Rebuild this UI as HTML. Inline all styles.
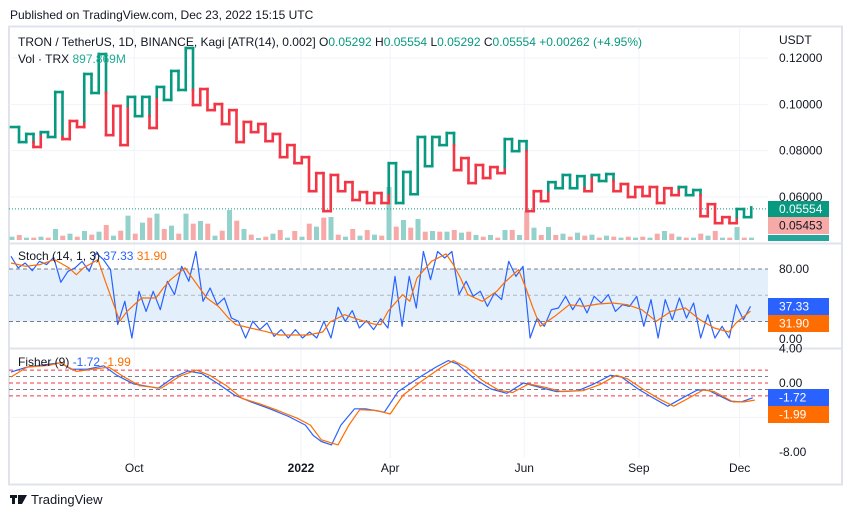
<!DOCTYPE html>
<html><head><meta charset="utf-8">
<style>
body{margin:0;background:#fff;width:851px;height:518px;overflow:hidden;font-family:"Liberation Sans",sans-serif;}
svg text{font-family:"Liberation Sans",sans-serif;}
</style></head>
<body>
<svg id="chart" width="851" height="518" viewBox="0 0 851 518">
<text x="10" y="19" font-size="12" fill="#131722">Published on TradingView.com, Dec 23, 2022 15:15 UTC</text>
<rect x="9" y="26.5" width="833" height="458" fill="none" stroke="#e0e3eb" stroke-width="2"/>
<g id="grid"></g>
<g id="bands"></g>
<g id="vol"></g>
<g id="kagi"></g>
<g id="ind"></g>
<line x1="9" y1="243.5" x2="842" y2="243.5" stroke="#e0e3eb" stroke-width="2"/>
<line x1="9" y1="348.5" x2="842" y2="348.5" stroke="#e0e3eb" stroke-width="2"/>
<g id="axes"></g>
<text x="18" y="46" font-size="12" fill="#131722">TRON / TetherUS, 1D, BINANCE, Kagi [ATR(14), 0.002]  O<tspan fill="#089981">0.05292</tspan>  H<tspan fill="#089981">0.05554</tspan>  L<tspan fill="#089981">0.05292</tspan>  C<tspan fill="#089981">0.05554</tspan>  <tspan fill="#089981">+0.00262 (+4.95%)</tspan></text>
<text x="18" y="63" font-size="12" fill="#131722">Vol · TRX  <tspan fill="#22ab94">897.869M</tspan></text>
<text x="18" y="260" font-size="12" fill="#131722">Stoch (14, 1, 3)  <tspan fill="#2962ff">37.33</tspan>  <tspan fill="#ff6d00">31.90</tspan></text>
<text x="18" y="366" font-size="12" fill="#131722">Fisher (9)  <tspan fill="#2962ff">-1.72</tspan>  <tspan fill="#ff6d00">-1.99</tspan></text>
<text x="779" y="44" font-size="12" fill="#131722">USDT</text>
<g>
<rect x="10" y="495" width="7" height="3" fill="#131722"/><rect x="12" y="495" width="3" height="9" fill="#131722"/>
<polygon points="18,495 27,495 22,504 18,504" fill="#131722"/>
<text x="31" y="504" font-size="13" fill="#131722">TradingView</text>
</g>
</svg>
<script>
// ---- data ----
const kagiPrices=[0.0902,0.0837,0.0872,0.0816,0.0880,0.0859,0.1053,0.0850,0.0928,0.0902,0.1131,0.1049,0.1217,0.0867,0.0993,0.0824,0.1032,0.0949,0.1032,0.0898,0.1075,0.1019,0.1144,0.1062,0.1243,0.0997,0.1066,0.0975,0.1001,0.0915,0.0975,0.0837,0.0924,0.0880,0.0915,0.0841,0.0872,0.0772,0.0824,0.0746,0.0772,0.0625,0.0703,0.0539,0.0695,0.0625,0.0664,0.0587,0.0621,0.0574,0.0617,0.0574,0.0746,0.0574,0.0708,0.0612,0.0859,0.0733,0.0859,0.0824,0.0876,0.0716,0.0768,0.0660,0.0738,0.0682,0.0729,0.0703,0.0850,0.0798,0.0841,0.0539,0.0625,0.0582,0.0664,0.0638,0.0695,0.0638,0.0690,0.0625,0.0695,0.0669,0.0699,0.0625,0.0656,0.0600,0.0643,0.0604,0.0643,0.0574,0.0638,0.0608,0.0643,0.0608,0.0630,0.0517,0.0569,0.0487,0.0513,0.0487,0.0548,0.0513,0.0555];
const volumes=[10,15,7,7,10,7,33,13,19,10,27,16,25,45,13,28,73,19,52,67,79,33,43,19,79,49,57,49,13,28,90,58,33,16,6,10,19,30,7,27,10,49,40,67,69,16,10,33,13,30,16,13,159,40,60,37,63,25,27,25,25,30,22,25,15,10,15,7,30,30,15,87,37,15,39,15,19,10,22,13,16,7,13,10,7,10,7,10,7,19,27,19,10,7,7,19,13,27,7,7,39,7,7];
const volUp=[1,0,1,0,1,0,1,0,1,0,1,0,1,0,1,0,1,0,1,0,1,0,1,0,1,0,1,0,1,0,1,0,1,0,1,0,1,0,1,0,1,0,1,0,1,0,1,0,1,0,1,0,1,0,1,0,1,0,1,0,1,0,1,0,1,0,1,0,1,0,1,0,1,0,1,0,1,0,1,0,1,0,1,0,1,0,1,0,1,0,1,0,1,0,1,0,1,0,1,0,1,0,1];
const stochK=[94.5,81.2,86.9,78.1,88.8,85.0,93.3,64.8,77.3,81.2,88.8,77.3,98.3,90.7,79.2,16.4,43.1,1.1,54.5,31.6,54.5,33.5,65.9,50.7,83.1,65.9,100,43.1,58.3,39.2,46.9,24.0,20.2,1.1,20.2,10.7,18.3,3.0,10.7,1.1,10.7,1.1,8.0,1.1,20.2,1.1,36.2,20.2,32.4,12.6,21.0,10.7,23.2,12.6,71.6,14.5,71.6,35.4,100,67.8,100,92.6,100,50.7,65.9,48.8,54.5,37.3,52.6,45.0,88.8,71.6,83.1,1.1,24.0,14.5,33.5,35.4,48.8,33.5,46.9,29.7,48.8,41.1,50.7,31.6,39.2,37.3,48.8,14.5,45.0,1.1,45.0,22.1,46.9,24.0,41.1,1.1,27.8,1.1,14.5,1.1,39.2,22.1,37.33];
const stochDIdx=[0,1,2,4,6,8,9,10,12,13,15,16,18,20,21,22,24,25,27,28.6,30,31,33,35,37,39,41,43,44,46,48,50,51,52,54,55,56,58,60,61,62,63,65,67,68,70,71,72,73,75,77,79,81,83,85,87,89,91,93,95,97,99,100,102];
const stochD=[86.9,85.0,83.1,85,90.7,81.2,73.5,81.2,90.7,65.9,20.2,31.6,46.9,46.9,58.3,67.8,81.2,69.7,46.9,37.3,24,16.4,12.6,8.8,4.6,4.6,4.6,8,19.4,27.8,22.1,17.1,16.4,31.6,50.7,43.1,69.7,88.8,97.2,85,69.7,50.7,43.1,54.5,64,79.2,58.3,35.4,14.5,25.9,39.2,37.3,40,41.1,39.2,33.5,20.2,31.6,35.4,22.1,12.6,8,18.3,31.9];
const fishIdx=[0,2.2,4.5,6.8,8.3,10.5,12.8,14.6,16.9,20.3,22.5,24.4,26.3,28.6,30.8,33.1,35.7,38.3,40.6,41.7,42.8,44.2,45.5,47.4,48.9,51.5,53.4,56.4,58.6,60.3,61.6,63.9,66.2,68.4,70.7,72.9,75.2,78.2,80.4,82.7,84.2,86.5,88.7,90.6,92.9,94.7,96.2,99.2,100.7,102.3];
const fisher=[1.27,1.85,2.1,2.35,1.6,1.6,2.0,0.9,-0.1,-0.6,0.7,1.4,1.1,-0.1,-1.4,-2.2,-3.0,-3.9,-4.9,-6.1,-6.8,-7.2,-4.9,-3.0,-3.0,-3.4,-1.0,0.7,1.85,2.6,2.2,0.5,-0.7,-1.2,0,-0.5,-1.0,-0.9,-0.1,0.9,0.7,-0.7,-1.8,-2.7,-1.6,-0.8,-0.85,-2.1,-2.2,-1.72];
const trigIdx=[0,2.2,5.2,6.8,9,11.3,13.5,15.4,17.7,20.7,23.3,25.6,27.4,29.7,31.9,34.2,36.8,39.5,41.3,42.8,45.1,46.6,48.1,50.4,52.3,54.1,57.1,59.4,61,62.8,65,67.3,69.2,71.4,73.7,75.9,78.9,81.2,83.5,85,87.2,89.5,91.4,93.6,95.5,97,99.6,101.1,102.6];
const trigger=[0.7,1.85,2.05,2.35,1.35,1.6,1.85,0.8,-0.3,-0.6,0.8,1.5,0.9,-0.3,-1.8,-2.4,-3.2,-4.1,-4.9,-6.6,-7.2,-4.9,-3.1,-3.2,-3.6,-1.4,0.5,1.85,2.6,1.85,0.3,-0.85,-1.1,-0.1,-0.5,-1.0,-0.9,-0.2,0.9,0.5,-0.75,-1.9,-2.7,-1.7,-0.8,-1.0,-2.2,-2.2,-1.99];
const priceTicks=[0.12,0.10,0.08,0.06];
const stochTicks=[80,0];
const fisherTicks=[4,0,-8];
const timeLabels=["Oct","2022","Apr","Jun","Sep","Dec"];
const timeIdx=[17,40,52.3,70.8,86.6,100.5];

// ---- scales ----
const NS="http://www.w3.org/2000/svg";
const xBar=i=>11+i*7.25;
const yP=p=>58+(0.12-p)*2316.7;
const yS=v=>339-v*0.875;
const yF=v=>383-v*8.6;
function el(tag,attrs,parent){const e=document.createElementNS(NS,tag);for(const k in attrs)e.setAttribute(k,attrs[k]);document.getElementById(parent).appendChild(e);return e;}

// grid
timeIdx.forEach((t,i)=>{const g=el('line',{x1:xBar(t),x2:xBar(t),y1:27,y2:458,stroke:'#f0f3fa','stroke-width':1},'grid');

});
priceTicks.forEach(p=>{const g=el('line',{x1:9,x2:768,y1:yP(p),y2:yP(p),stroke:'#f0f3fa'},'grid');

});
[yF(-4)].forEach(y=>{const g=el('line',{x1:9,x2:768,y1:y,y2:y,stroke:'#f0f3fa'},'grid');

});

// stoch band
const band=el('rect',{x:9,y:yS(80),width:759,height:yS(20)-yS(80),fill:'#e3f0fc'},'bands');


[[80,'#787b86'],[50,'#b2b5be'],[20,'#787b86']].forEach(([v,c])=>{const l=el('line',{x1:9,x2:768,y1:yS(v),y2:yS(v),stroke:c,'stroke-dasharray':'4 3'},'bands');

});
[[1.5,'#f23645'],[0.75,'#787b86'],[0,'#f23645'],[-0.75,'#787b86'],[-1.5,'#f23645']].forEach(([v,c])=>{const l=el('line',{x1:9,x2:768,y1:yF(v),y2:yF(v),stroke:c,'stroke-dasharray':'4 3'},'bands');

});

// volume
const vmax=Math.max(...volumes);
volumes.forEach((v,i)=>{const h=v/vmax*53;const r=el('rect',{x:xBar(i)+1-2.5,y:240-h,width:5,height:h,fill:volUp[i]?'#93d2cb':'#f7a9a7'},'vol');

});

// last price line
const lp=el('line',{x1:9,x2:768,y1:yP(0.05554)+1.5,y2:yP(0.05554)+1.5,stroke:'#089981','stroke-dasharray':'1 2'},'kagi');



// kagi
const G='#089981',R='#f23645';
function seg(x1,y1,x2,y2,c){const l=el('line',{x1:x1,y1:y1,x2:x2,y2:y2,stroke:c,'stroke-width':2.6,'stroke-linecap':'square'},'kagi');

}
let color=G,lastHigh=null,lastLow=null,px=11;
for(let k=1;k<kagiPrices.length;k++){
  const a=kagiPrices[k-1],b=kagiPrices[k],x=19+(k-1)*7.25;
  seg(px,yP(a),x,yP(a),color);
  if(b>a){
    if(color===R&&lastHigh!==null&&b>lastHigh){seg(x,yP(a),x,yP(lastHigh),R);seg(x,yP(lastHigh),x,yP(b),G);color=G;}
    else seg(x,yP(a),x,yP(b),color);
    lastHigh=b;
  }else{
    if(color===G&&lastLow!==null&&b<lastLow){seg(x,yP(a),x,yP(lastLow),G);seg(x,yP(lastLow),x,yP(b),R);color=R;}
    else seg(x,yP(a),x,yP(b),color);
    lastLow=b;
  }
  px=x;
}

// indicators
function poly(xs,ys,c,name){const pts=xs.map((x,i)=>x.toFixed(1)+','+ys[i].toFixed(1)).join(' ');
const p=el('polyline',{points:pts,fill:'none',stroke:c,'stroke-width':1.2,'stroke-linejoin':'round'},'ind');

}
const kStep=102/(stochK.length-1);
poly(stochK.map((v,i)=>xBar(i*kStep)),stochK.map(yS),'#2962ff','stoch-k-line');
poly(stochDIdx.map(xBar),stochD.map(yS),'#ff6d00','stoch-d-line');
poly(fishIdx.map(xBar),fisher.map(yF),'#2962ff','fisher-line');
poly(trigIdx.map(xBar),trigger.map(yF),'#ff6d00','fisher-trigger-line');

// axes labels
function txt(x,y,s,attrs,name){const t=el('text',Object.assign({x:x,y:y,'font-size':12,fill:'#131722'},attrs||{}),'axes');t.textContent=s;

return t;}
priceTicks.forEach(p=>txt(779,yP(p)+4,p.toFixed(5),{},'price-tick-label'));
stochTicks.forEach(v=>txt(779,yS(v)+4,v.toFixed(2),{},'stoch-tick-label'));
fisherTicks.forEach(v=>txt(779,yF(v)+4,v.toFixed(2),{},'fisher-tick-label'));
timeLabels.forEach((s,i)=>txt(xBar(timeIdx[i]),472,s,{'text-anchor':'middle','font-weight':s==='2022'?'bold':'normal'},'time-label'));
function badge(y,h,bg,s,fg,name){const r=el('rect',{x:768,y:y,width:61,height:h,fill:bg},'axes');


txt(779,y+h/2+4,s,{fill:fg},name+'-text');}
badge(201,16,'#089981','0.05554','#fff','last-price-badge');
badge(217,17,'#f7a9a7','0.05453','#131722','prev-close-badge');
badge(235,6,'#26a69a','','#fff','volume-badge');
badge(298,17,'#2962ff','37.33','#fff','stoch-k-badge');
badge(315,17,'#ff6d00','31.90','#fff','stoch-d-badge');
badge(389,17,'#2962ff','-1.72','#fff','fisher-badge');
badge(406,17,'#ff6d00','-1.99','#fff','trigger-badge');
</script>
</body></html>
